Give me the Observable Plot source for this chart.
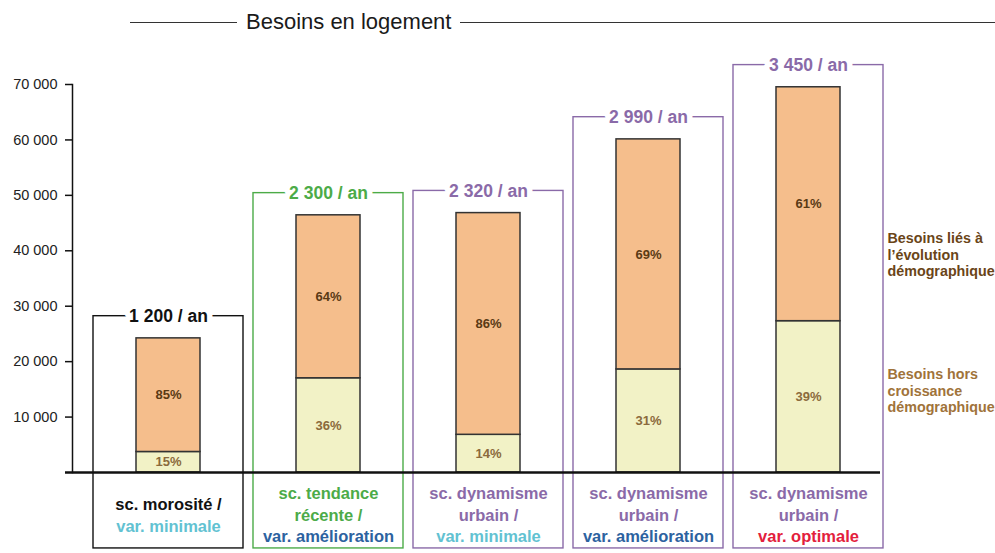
<!DOCTYPE html>
<html>
<head>
<meta charset="utf-8">
<script src="https://cdn.jsdelivr.net/npm/d3@7"></script>
<script src="https://cdn.jsdelivr.net/npm/@observablehq/plot@0.6"></script>
<style>
  body { margin: 0; background: #fff; width: 995px; height: 553px; overflow: hidden; font-family: "Liberation Sans", Arial, sans-serif; }
  #title { position: relative; height: 44px; }
  #title .line { position: absolute; top: 22px; border-top: 1.5px solid #333; height: 0; }
  #title .txt { position: absolute; left: 246px; top: 9px; font-size: 22px; color: #1a1a1a; line-height: 26px; }
</style>
</head>
<body>
<div id="title">
  <div class="line" style="left:130px;width:107px"></div>
  <div class="txt">Besoins en logement</div>
  <div class="line" style="left:460px;width:535px"></div>
</div>
<div id="chart"></div>
<script>
// ---- data ----
const categories = ["morosité/minimale", "tendance/amélioration", "dynamisme/minimale", "dynamisme/amélioration", "dynamisme/optimale"];
const scenarioLines = [["sc. morosité /"], ["sc. tendance", "récente /"], ["sc. dynamisme", "urbain /"], ["sc. dynamisme", "urbain /"], ["sc. dynamisme", "urbain /"]];
const variantLabels = ["var. minimale", "var. amélioration", "var. minimale", "var. amélioration", "var. optimale"];
const scenarioColors = ["#111111", "#4cab48", "#8a6aa8", "#8a6aa8", "#8a6aa8"];
const variantColors = ["#62c2d2", "#2c62a0", "#62c2d2", "#2c62a0", "#e3203c"];
const annualLabels = ["1 200 / an", "2 300 / an", "2 320 / an", "2 990 / an", "3 450 / an"];
const horsCroissance = [3700, 17000, 6800, 18600, 27300];
const evolutionDemo = [20500, 29400, 40000, 41500, 42200];
const pctHors = ["15%", "36%", "14%", "31%", "39%"];
const pctEvol = ["85%", "64%", "86%", "69%", "61%"];
const yTicks = [10000, 20000, 30000, 40000, 50000, 60000, 70000];
const legendLabels = ["Besoins liés à\nl\u2019évolution\ndémographique", "Besoins hors\ncroissance\ndémographique"];
const legendLevels = [39300, 14800];
const legendColors = ["#6a4518", "#a0733a"];
const boxBottom = -13700;
const boxMargin = 4000;

// ---- derived tables ----
const barRows = [];
const labelRows = [];
categories.forEach((c, i) => {
  barRows.push({cat: c, part: "hors", value: horsCroissance[i]});
  barRows.push({cat: c, part: "evol", value: evolutionDemo[i]});
  labelRows.push({cat: c, part: "hors", mid: horsCroissance[i] / 2, pct: pctHors[i]});
  labelRows.push({cat: c, part: "evol", mid: horsCroissance[i] + evolutionDemo[i] / 2, pct: pctEvol[i]});
});
const boxes = categories.map((c, i) => ({cat: c, top: horsCroissance[i] + evolutionDemo[i] + boxMargin, label: annualLabels[i], color: scenarioColors[i]}));

const font = "Liberation Sans, Arial, sans-serif";
const marks = [];

// boxes
boxes.forEach(b => {
  marks.push(Plot.barY([b], {x: "cat", y1: () => boxBottom, y2: "top", fill: "none", stroke: b.color, strokeWidth: 1.4, insetLeft: 5, insetRight: 5}));
});

// stacked bars
marks.push(Plot.barY(barRows, {x: "cat", y: "value", fill: "part", stroke: "#333", strokeWidth: 1.5, insetLeft: 48, insetRight: 48}));

// percentages
marks.push(Plot.text(labelRows.filter(d => d.part === "hors"), {x: "cat", y: "mid", text: "pct", fill: "#8b6a3c", fontWeight: "bold", fontSize: 13, fontFamily: font}));
marks.push(Plot.text(labelRows.filter(d => d.part === "evol"), {x: "cat", y: "mid", text: "pct", fill: "#5a3a14", fontWeight: "bold", fontSize: 13, fontFamily: font}));

// box titles with white halo cutting the top line
boxes.forEach(b => {
  marks.push(Plot.text([b], {x: "cat", y: "top", text: "label", fill: b.color, stroke: "white", strokeWidth: 11, paintOrder: "stroke", fontWeight: "bold", fontSize: 17.5, fontFamily: font}));
});

// category labels under axis
categories.forEach((c, i) => {
  const lines = scenarioLines[i].map(t => ({t, color: scenarioColors[i]})).concat([{t: variantLabels[i], color: variantColors[i]}]);
  const n = lines.length;
  lines.forEach((l, k) => {
    marks.push(Plot.text([c], {x: d => d, y: () => 0, text: () => l.t, fill: l.color, dy: 43 + (k - (n - 1) / 2) * 21.5, fontWeight: "bold", fontSize: 16.5, fontFamily: font}));
  });
});

// axes
marks.push(Plot.frame({anchor: "left", stroke: "#111", strokeWidth: 1.5}));
marks.push(Plot.axisY({ticks: yTicks, tickSize: 7, tickPadding: 8, tickFormat: d => d3.format(",")(d).replace(/,/g, " "), fontSize: 14.5, fontFamily: font, color: "#222", stroke: "#111", strokeWidth: 1.5, label: null}));
marks.push(Plot.ruleY([0], {stroke: "#111", strokeWidth: 2.5, insetLeft: -7}));

// legend at right
legendLabels.forEach((t, i) => {
  marks.push(Plot.text([t], {frameAnchor: "right", y: () => legendLevels[i], text: d => d, textAnchor: "start", dx: 7, fill: legendColors[i], fontWeight: "bold", fontSize: 14.3, lineHeight: 1.15, fontFamily: font}));
});

const chart = Plot.plot({
  width: 995,
  height: 509,
  marginLeft: 72,
  marginRight: 115,
  marginTop: 40,
  marginBottom: 81,
  style: {fontFamily: font, background: "white", overflow: "visible"},
  x: {type: "band", domain: categories, range: [85.5, 890], padding: 0, axis: null},
  y: {domain: [0, 70000], axis: null},
  color: {domain: ["hors", "evol"], range: ["#f2f2c6", "#f5be8c"]},
  marks
});
document.getElementById("chart").appendChild(chart);
</script>
</body>
</html>
